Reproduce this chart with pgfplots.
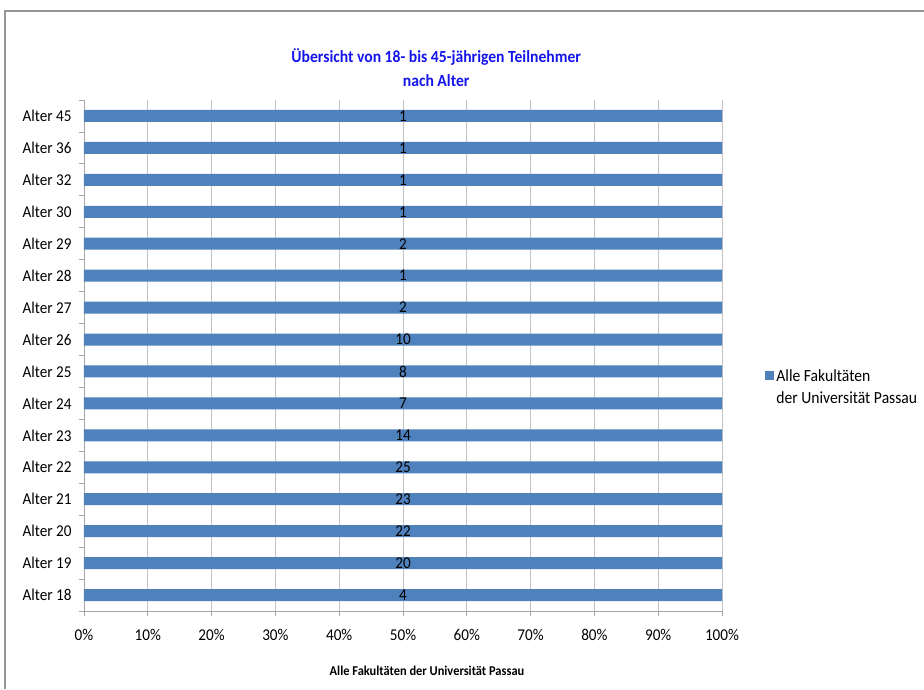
\documentclass[border=0pt]{standalone}
\usepackage{fontspec}
\setmainfont{Carlito}[FakeStretch=0.92]
\usepackage{pgfplots}
\pgfplotsset{compat=1.18}
\usepackage{pgfplotstable}
\definecolor{barblue}{RGB}{79,129,189}
\definecolor{gridgray}{RGB}{195,195,195}
\definecolor{titleblue}{RGB}{20,20,235}
\definecolor{framegray}{RGB}{150,150,150}

\pgfplotstableread{
y n p h
0 4 100 50
1 20 100 50
2 22 100 50
3 23 100 50
4 25 100 50
5 14 100 50
6 7 100 50
7 8 100 50
8 10 100 50
9 2 100 50
10 1 100 50
11 2 100 50
12 1 100 50
13 1 100 50
14 1 100 50
15 1 100 50
}\datatable

\begin{document}
\begin{tikzpicture}
\path[use as bounding box] (0,0) rectangle (924pt,689pt);
\draw[framegray, line width=1.5pt] (5pt,0pt) -- (5pt,678pt) -- (924pt,678pt);
\begin{axis}[
  at={(84pt,78pt)}, anchor=south west,
  scale only axis, width=638pt, height=511pt,
  xmin=0, xmax=100, ymin=-0.5, ymax=15.5,
  axis x line*=bottom, axis y line*=left,
  axis line style={gray!70, line width=0.8pt},
  tick align=outside,
  major tick length=5pt,
  tick style={gray!70, line width=0.8pt},
  xtick={0,10,...,100},
  xticklabel={\pgfmathprintnumber{\tick}\%},
  /pgf/number format/assume math mode=true,
  xticklabel style={font=\fontsize{16.5}{18}\selectfont, yshift=-10pt},
  xmajorgrids,
  grid style={gridgray, line width=0.8pt},
  ytick={-0.5,0.5,...,15.5},
  yticklabels={},
  extra y ticks={0,...,15},
  extra y tick labels={Alter 18,Alter 19,Alter 20,Alter 21,Alter 22,Alter 23,Alter 24,Alter 25,Alter 26,Alter 27,Alter 28,Alter 29,Alter 30,Alter 32,Alter 36,Alter 45},
  extra y tick style={major tick length=0pt, yticklabel style={font=\fontsize{16.5}{18}\selectfont, xshift=-9pt}},
  title={Übersicht von 18- bis 45-jährigen Teilnehmer\\nach Alter},
  title style={at={(0.552,1.0512)}, anchor=center, align=center, font=\bfseries\fontsize{17}{24}\selectfont, text=titleblue},
  xlabel={Alle Fakultäten der Universität Passau},
  xlabel style={at={(0.5376,-0.1174)}, anchor=center, font=\bfseries\fontsize{13.5}{16}\selectfont},
  legend style={at={(1.063,0.438)}, anchor=west, draw=none, fill=none, font=\fontsize{17}{22.5}\selectfont, nodes={align=left}},
  legend cell align=left,
]
\addplot[xbar, bar width=12pt, bar shift=0pt, fill=barblue, draw=none,
  legend image code/.code={\fill[barblue] (0pt,7pt) rectangle (9pt,16pt);}]
  table[x=p, y=y]{\datatable};
\addlegendentry{Alle Fakultäten\\der Universität Passau}
\addplot[forget plot, only marks, mark=none, nodes near coords, point meta=explicit symbolic,
  every node near coord/.append style={anchor=center, text=black, font=\fontsize{16.5}{18}\selectfont}]
  table[x=h, y=y, meta=n]{\datatable};
\end{axis}
\end{tikzpicture}
\end{document}
